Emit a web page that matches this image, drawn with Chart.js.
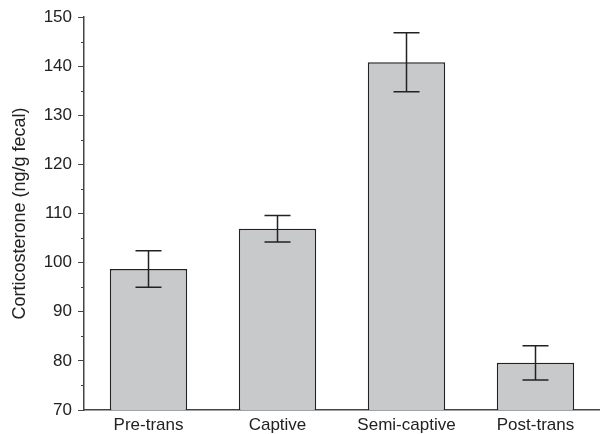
<!DOCTYPE html>
<html>
<head>
<meta charset="utf-8">
<script src="https://cdn.jsdelivr.net/npm/chart.js@4/dist/chart.umd.min.js"></script>
<style>
  html, body { margin: 0; padding: 0; background: #fff; }
  #wrap { width: 600px; height: 434px; position: relative; }
</style>
</head>
<body>
<div id="wrap"><canvas id="cortChart"></canvas></div>
<script>
// data
const categories = ['Pre-trans', 'Captive', 'Semi-captive', 'Post-trans'];
const meanValues = [98.7, 106.9, 140.8, 79.6];
const errorValues = [3.7, 2.7, 6.0, 3.5];
const yTicks = [70, 80, 90, 100, 110, 120, 130, 140, 150];
const yMinorTicks = [75, 85, 95, 105, 115, 125, 135, 145];

const ink = '#222222';
const axisInk = '#444444';
const fontFamily = '"Liberation Sans", Arial, Helvetica, sans-serif';

// error bars + minor ticks drawn through the chart scales
const errorBarPlugin = {
    id: 'errorBars',
    afterDatasetsDraw(chart) {
        const ctx = chart.ctx;
        const x = chart.scales.x;
        const y = chart.scales.y;
        const capHalf = 13;
        ctx.save();
        ctx.strokeStyle = ink;
        ctx.lineWidth = 1.5;
        meanValues.forEach((v, i) => {
            const cx = x.getPixelForValue(i);
            const top = y.getPixelForValue(v + errorValues[i]);
            const bot = y.getPixelForValue(v - errorValues[i]);
            ctx.beginPath();
            ctx.moveTo(cx, top); ctx.lineTo(cx, bot);
            ctx.moveTo(cx - capHalf, top); ctx.lineTo(cx + capHalf, top);
            ctx.moveTo(cx - capHalf, bot); ctx.lineTo(cx + capHalf, bot);
            ctx.stroke();
        });
        // minor ticks on the y axis
        ctx.strokeStyle = axisInk;
        ctx.lineWidth = 1;
        const ax = chart.chartArea.left;
        yMinorTicks.forEach(t => {
            const py = Math.round(y.getPixelForValue(t)) + 0.5;
            ctx.beginPath();
            ctx.moveTo(ax - 3, py); ctx.lineTo(ax, py);
            ctx.stroke();
        });
        ctx.restore();
    }
};

new Chart(document.getElementById('cortChart'), {
    type: 'bar',
    data: {
        labels: categories,
        datasets: [{
            data: meanValues,
            backgroundColor: '#c8c9cb',
            borderColor: ink,
            borderWidth: 1.5,
            borderSkipped: false,
            barPercentage: 0.6,
            categoryPercentage: 1.0
        }]
    },
    options: {
        responsive: true,
        maintainAspectRatio: false,
        animation: false,
        layout: { padding: { top: 17, right: 0, left: 0, bottom: 0 } },
        plugins: {
            legend: { display: false },
            tooltip: { enabled: false }
        },
        scales: {
            x: {
                grid: { display: false, drawTicks: false },
                border: { color: axisInk, width: 1.5 },
                ticks: {
                    color: ink,
                    padding: 5,
                    font: { family: fontFamily, size: 17 }
                },
                afterFit(scale) { scale.height = 24; }
            },
            y: {
                min: 70,
                max: 150,
                afterBuildTicks(scale) {
                    scale.ticks = yTicks.map(v => ({ value: v }));
                },
                grid: {
                    drawOnChartArea: false,
                    color: axisInk,
                    tickLength: 6,
                    tickWidth: 1
                },
                border: { color: axisInk, width: 1.5 },
                ticks: {
                    color: ink,
                    padding: 6,
                    font: { family: fontFamily, size: 17 }
                },
                title: {
                    display: true,
                    text: 'Corticosterone (ng/g fecal)',
                    color: ink,
                    padding: { top: 9, bottom: 0 },
                    font: { family: fontFamily, size: 18 }
                },
                afterFit(scale) { scale.width = 84; }
            }
        }
    },
    plugins: [errorBarPlugin]
});
</script>
</body>
</html>
